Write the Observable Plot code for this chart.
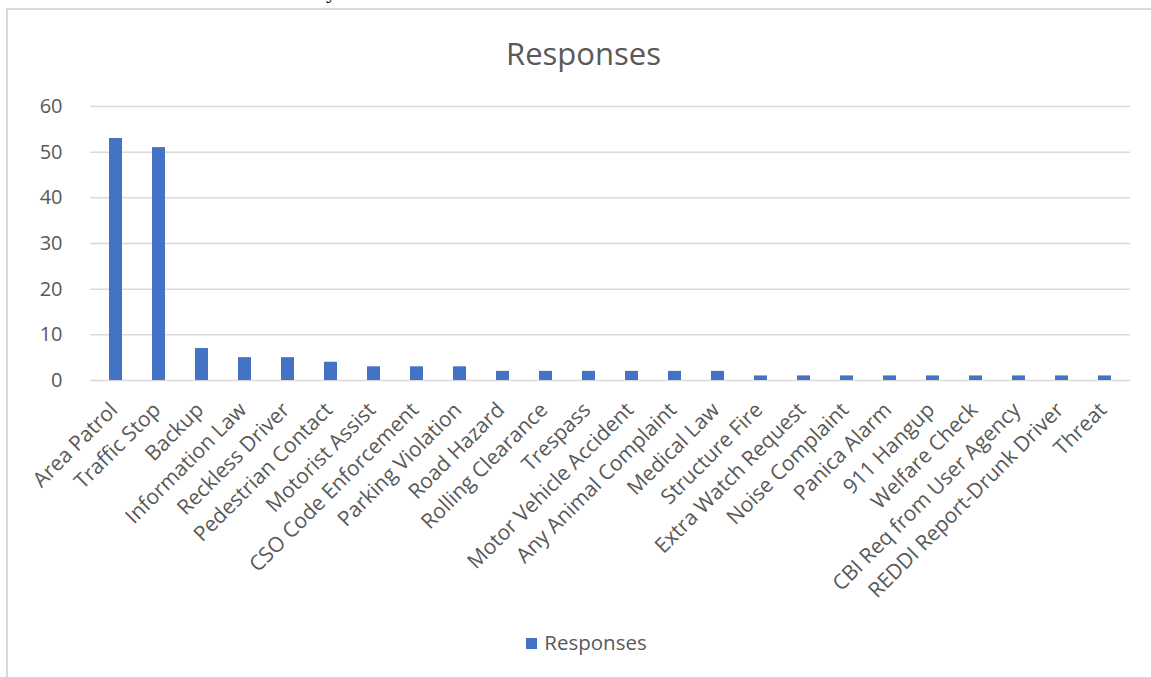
<!DOCTYPE html>
<html>
<head>
<meta charset="utf-8">
<script src="https://cdn.jsdelivr.net/npm/d3@7"></script>
<script src="https://cdn.jsdelivr.net/npm/@observablehq/plot@0.6"></script>
<style>
  html, body { margin: 0; padding: 0; background: #fff; }
  #wrap { position: relative; width: 1151px; height: 677px; overflow: hidden; font-family: "Open Sans", sans-serif; }
  #frame { position: absolute; left: 6px; top: 8px; width: 1160px; height: 680px; border-left: 2px solid #d9d9d9; border-top: 2px solid #d9d9d9; }
  #cut { position: absolute; left: 326px; top: -20px; font-family: "Liberation Serif", serif; font-size: 22px; color: #000; line-height: 22px; }
  #title { position: absolute; left: 0; width: 1151px; top: 31px; text-align: center; font-size: 31px; color: #595959; line-height: 44px; padding-left: 16px; box-sizing: border-box; }
  #chart { position: absolute; left: 0; top: 90px; }
  #legend { position: absolute; left: 0; width: 1151px; top: 628px; text-align: center; font-size: 20.5px; color: #595959; line-height: 28px; padding-left: 22px; box-sizing: border-box; }
  #legend .sw { display: inline-block; width: 11px; height: 11px; background: #4472C4; margin-right: 7px; vertical-align: 1px; }
</style>
</head>
<body>
<div id="wrap">
  <div id="frame"></div>
  <div id="cut">y</div>
  <div id="title">Responses</div>
  <div id="chart"></div>
  <div id="legend"><span class="sw"></span>Responses</div>
</div>
<script>
const categories = ["Area Patrol","Traffic Stop","Backup","Information Law","Reckless Driver","Pedestrian Contact","Motorist Assist","CSO Code Enforcement","Parking Violation","Road Hazard","Rolling Clearance","Trespass","Motor Vehicle Accident","Any Animal Complaint","Medical Law","Structure Fire","Extra Watch Request","Noise Complaint","Panica Alarm","911 Hangup","Welfare Check","CBI Req from User Agency","REDDI Report-Drunk Driver","Threat"];
const responses = [53,51,7,5,5,4,3,3,3,2,2,2,2,2,2,1,1,1,1,1,1,1,1,1];
const yTicks = [0,10,20,30,40,50,60];

const data = categories.map((c, i) => ({category: c, value: responses[i]}));

const chart = Plot.plot({
  width: 1151,
  height: 510,
  marginLeft: 90,
  marginRight: 21,
  marginTop: 16,
  marginBottom: 220,
  style: { fontFamily: "Open Sans, sans-serif", color: "#595959", background: "transparent" },
  x: { domain: categories, paddingInner: 0.7, paddingOuter: 0.35, label: null },
  y: { domain: [0, 60], ticks: yTicks, label: null },
  marks: [
    Plot.gridY(yTicks, { stroke: "#d9d9d9", strokeOpacity: 1, strokeWidth: 1.5 }),
    Plot.barY(data, { x: "category", y: "value", fill: "#4472C4" }),
    Plot.axisY(yTicks, { tickSize: 0, tickPadding: 28, fontSize: 20, fill: "#595959", label: null }),
    Plot.axisX({ tickSize: 0, tickPadding: 26, tickRotate: -45, fontSize: 21, fill: "#595959", label: null, dx: -2 })
  ]
});
document.getElementById("chart").appendChild(chart);
</script>
</body>
</html>
